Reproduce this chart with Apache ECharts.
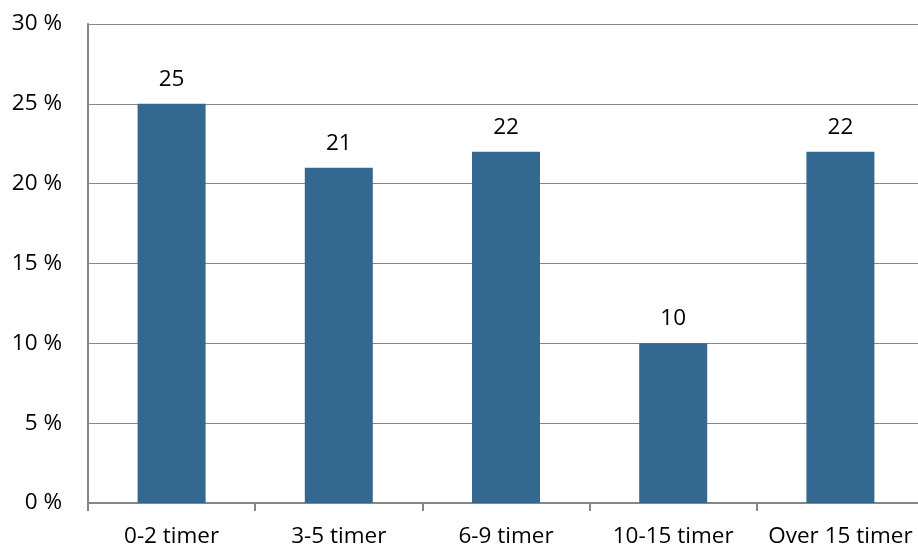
<!DOCTYPE html>
<html><head><meta charset="utf-8">
<script src="https://cdn.jsdelivr.net/npm/echarts@6/dist/echarts.min.js"></script>
<style>html,body{margin:0;padding:0;background:#fff;overflow:hidden;width:918px;height:548px}#c{width:924px;height:548px}</style>
</head><body><div id="c"></div>
<script>
const categories = ['0-2 timer','3-5 timer','6-9 timer','10-15 timer','Over 15 timer'];
const values = [25, 21, 22, 10, 22];
const yTicks = {min:0, max:30, interval:5};
const chart = echarts.init(document.getElementById('c'), null, {renderer:'canvas'});
const font = '"Open Sans", sans-serif';
chart.setOption({
  animation:false,
  grid:{left:88, right:0, top:24, bottom:44, containLabel:false},
  xAxis:{type:'category', data:categories,
    axisLine:{lineStyle:{color:'#868686', width:2}},
    axisTick:{show:true, interval:0, length:8, lineStyle:{color:'#868686', width:2}},
    axisLabel:{color:'#000', fontSize:22.5, fontFamily:font, margin:22, interval:0, hideOverlap:false}},
  yAxis:{type:'value', min:yTicks.min, max:yTicks.max, interval:yTicks.interval,
    axisLine:{show:true, lineStyle:{color:'#868686', width:2}},
    axisTick:{show:false},
    splitLine:{lineStyle:{color:'#868686', width:1}},
    axisLabel:{color:'#000', fontSize:22.5, fontFamily:font, margin:26, formatter:v=>v+' %'}},
  series:[{type:'bar', data:values, barWidth:68, itemStyle:{color:'#336991'},
    label:{show:true, position:'top', distance:13, color:'#000', fontSize:22.5, fontFamily:font}}]
});
</script></body></html>
